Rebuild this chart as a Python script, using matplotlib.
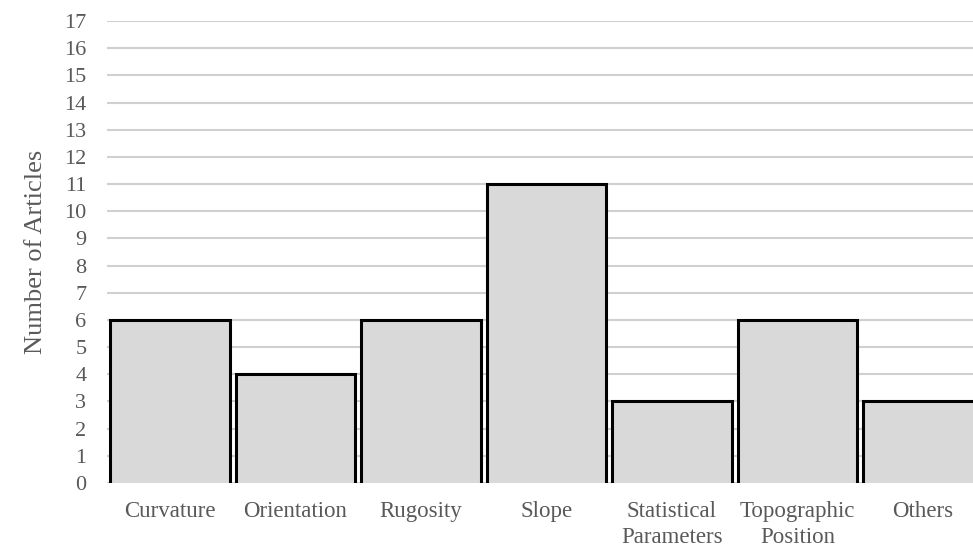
import matplotlib.pyplot as plt
import numpy as np

DPI = 100

categories = ["Curvature", "Orientation", "Rugosity", "Slope",
              "Statistical\nParameters", "Topographic\nPosition", "Others"]
articles = [6, 4, 6, 11, 3, 6, 3]
y_ticks = list(range(0, 18))

plt.rcParams['font.family'] = ['Liberation Serif', 'DejaVu Serif']

fig = plt.figure(figsize=(973/DPI, 549/DPI), dpi=DPI)
# ось выходит за правый край, как на исходной картинке
ax = fig.add_axes([0.1102, 0.1202, 0.9029, 0.8415])

x = np.arange(len(categories))
width = 0.955
ax.bar(x, articles, width=width, color="#d9d9d9", edgecolor="none", zorder=2)
# контур без нижней грани
for xi, h in zip(x, articles):
    x0, x1 = xi - width / 2, xi + width / 2
    ax.plot([x0, x0, x1, x1], [0, h, h, 0], color="black", lw=2.2,
            solid_joinstyle="miter", zorder=3)

ax.set_xlim(-0.5, len(categories) - 0.5)
ax.set_ylim(0, 17)
ax.set_yticks(y_ticks)
ax.set_xticks(x)
ax.set_xticklabels(categories, fontsize=16.5, color="#595959", linespacing=1.3)
ax.tick_params(axis="y", labelsize=16, labelcolor="#595959", length=0, pad=15)
ax.tick_params(axis="x", length=0, pad=13)
ax.yaxis.grid(True, color="#d0d0d0", lw=1.5, zorder=0)
ax.set_axisbelow(True)
for s in ax.spines.values():
    s.set_visible(False)
ax.set_ylabel("Number of Articles", fontsize=19, color="#595959", labelpad=12)

plt.savefig("out.png", dpi=DPI)
plt.close()
